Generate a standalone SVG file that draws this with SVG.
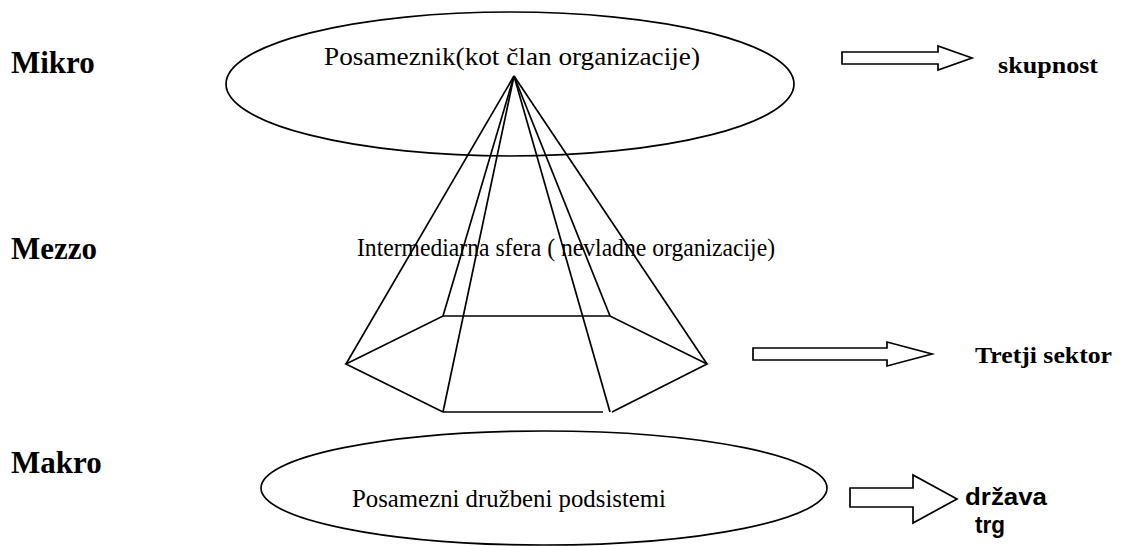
<svg xmlns="http://www.w3.org/2000/svg" width="1123" height="546" viewBox="0 0 1123 546">
  <style>
    .shape { fill: none; stroke: #000; stroke-width: 1.7; stroke-linejoin: miter; }
    .arrow { fill: #fff; stroke: #000; stroke-width: 1.7; }
    .level { font-family: "Liberation Serif", "Times New Roman", serif; font-weight: bold; font-size: 31px; fill: #000; }
    .label { font-family: "Liberation Serif", "Times New Roman", serif; font-size: 26px; fill: #000; }
    .result { font-family: "Liberation Serif", "Times New Roman", serif; font-weight: bold; font-size: 24px; fill: #000; }
    .result-sans { font-family: "Liberation Sans", Arial, sans-serif; font-weight: bold; font-size: 23px; fill: #000; }
  </style>
  <rect width="1123" height="546" fill="#fff"/>

  <!-- level captions -->
  <g id="levels">
    <text class="level" x="11" y="73">Mikro</text>
    <text class="level" x="11" y="259">Mezzo</text>
    <text class="level" x="11" y="473">Makro</text>
  </g>

  <!-- micro level: the individual -->
  <g id="node-mikro">
    <ellipse class="shape" cx="510" cy="84" rx="284" ry="72"/>
    <text class="label" x="324" y="65" textLength="376" lengthAdjust="spacingAndGlyphs">Posameznik(kot član organizacije)</text>
  </g>

  <!-- mezzo level: intermediate sphere (pyramid) -->
  <g id="node-mezzo">
    <polyline class="shape" points="443,412 346,364 443,316 610,316 707,364 612,412"/>
    <line class="shape" x1="443" y1="412" x2="603" y2="412"/>
    <g id="pyramid-edges">
      <line class="shape" x1="514" y1="76" x2="346" y2="364"/>
      <line class="shape" x1="514" y1="76" x2="443" y2="316"/>
      <line class="shape" x1="514" y1="76" x2="443" y2="412"/>
      <line class="shape" x1="514" y1="76" x2="610" y2="412"/>
      <line class="shape" x1="514" y1="76" x2="610" y2="316"/>
      <line class="shape" x1="514" y1="76" x2="707" y2="364"/>
    </g>
    <text class="label" x="357" y="256" textLength="418" lengthAdjust="spacingAndGlyphs">Intermediarna sfera ( nevladne organizacije)</text>
  </g>

  <!-- macro level: social subsystems -->
  <g id="node-makro">
    <ellipse class="shape" cx="544" cy="488" rx="283" ry="57"/>
    <text class="label" x="352" y="507" textLength="314" lengthAdjust="spacingAndGlyphs">Posamezni družbeni podsistemi</text>
  </g>

  <!-- block arrows -->
  <g id="connectors">
    <polygon class="arrow" points="842,52 938,52 938,46 972,58 938,70 938,64 842,64"/>
    <polygon class="arrow" points="753,348 887,348 887,342 932,354 887,366 887,360 753,360"/>
    <polygon class="arrow" points="850,488 913,488 913,475 957,499 913,523 913,507 850,507"/>
  </g>

  <!-- outcomes -->
  <g id="node-skupnost">
    <text class="result" x="998" y="73" textLength="100" lengthAdjust="spacingAndGlyphs">skupnost</text>
  </g>
  <g id="node-tretji-sektor">
    <text class="result" x="975" y="363" textLength="137" lengthAdjust="spacingAndGlyphs">Tretji sektor</text>
  </g>
  <g id="node-drzava-trg">
    <text class="result-sans" x="965" y="505" textLength="82" lengthAdjust="spacingAndGlyphs">država</text>
    <text class="result-sans" x="975" y="533" textLength="30" lengthAdjust="spacingAndGlyphs">trg</text>
  </g>
</svg>
